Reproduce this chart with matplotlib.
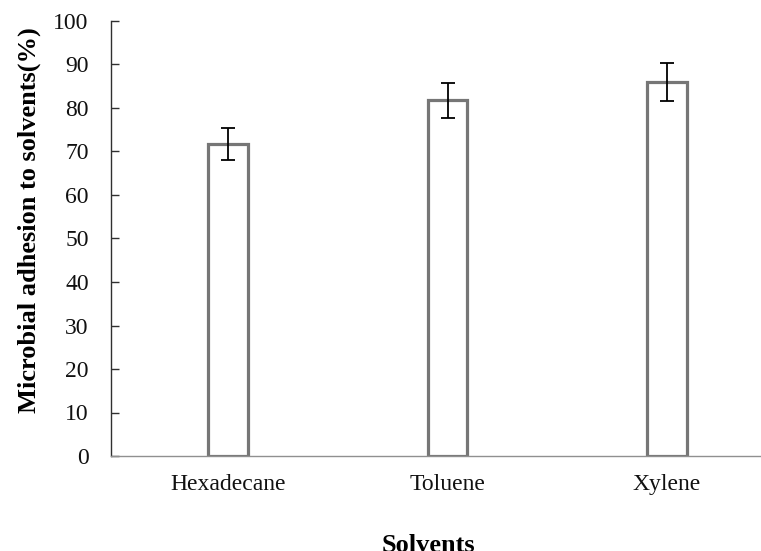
import matplotlib
matplotlib.use("Agg")
import matplotlib.pyplot as plt

# data
solvents = ["Hexadecane", "Toluene", "Xylene"]
adhesion = [71.7, 81.8, 86.0]
err = [3.6, 4.0, 4.4]

plt.rcParams['font.family'] = ['Liberation Serif', 'DejaVu Serif']

fig = plt.figure(figsize=(7.61, 5.51), dpi=100)
ax = fig.add_axes([111/761, 95/551, 650/761, 435/551])

x = list(range(len(solvents)))
ax.bar(x, adhesion, width=0.18, color="white", edgecolor="#767676", linewidth=2.3, zorder=2)
ax.errorbar(x, adhesion, yerr=err, fmt="none", ecolor="black",
            elinewidth=1.3, capsize=5, capthick=1.3, zorder=3)

ax.set_xlim(-0.533, 2.428)
ax.set_ylim(0, 100)
ax.set_yticks(range(0, 101, 10))
ax.set_xticks(x)
ax.set_xticklabels(solvents)

ax.spines['top'].set_visible(False)
ax.spines['right'].set_visible(False)
ax.spines['left'].set_color("#303030")
ax.spines['left'].set_linewidth(1.0)
ax.spines['bottom'].set_color("#909090")
ax.spines['bottom'].set_linewidth(1.0)

ax.tick_params(axis='y', direction='in', length=6, width=1, color="#303030",
               labelsize=17, pad=16, labelcolor="#111111")
ax.tick_params(axis='x', length=0, labelsize=17, pad=13, labelcolor="#111111")

ax.set_ylabel("Microbial adhesion to solvents(%)", fontsize=19, fontweight='bold')
ax.yaxis.set_label_coords(-0.108, 0.543)
fig.text(428/761, 1 - 545/551, "Solvents", fontsize=19, fontweight='bold',
         ha='center', va='center')

fig.savefig("out.png", dpi=100)
